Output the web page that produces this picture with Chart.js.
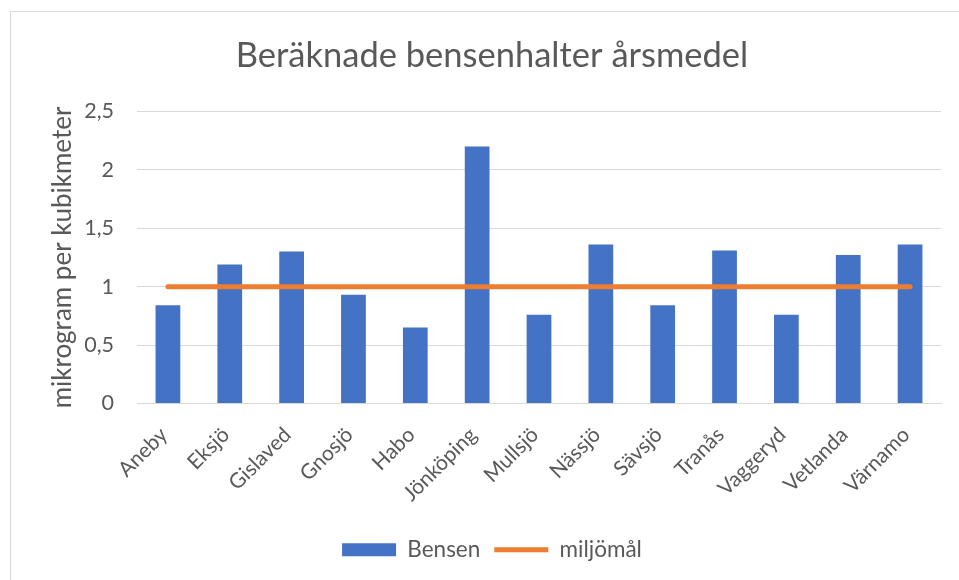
<!DOCTYPE html>
<html>
<head>
<meta charset="utf-8">
<script src="https://cdn.jsdelivr.net/npm/chart.js@4"></script>
<style>
    html, body { margin: 0; padding: 0; background: #fff; overflow: hidden; }
    body { width: 959px; height: 580px; position: relative; }
    #frame {
        position: absolute; left: 10px; top: 11px;
        width: 960px; height: 600px;
        border: 1px solid #d9d9d9; box-sizing: border-box;
    }
    #frame canvas { position: absolute; left: 0; top: 0; }
</style>
</head>
<body>
<div id="frame"><canvas id="chart" width="960" height="600"></canvas></div>
<script>
const towns = ['Aneby', 'Eksjö', 'Gislaved', 'Gnosjö', 'Habo', 'Jönköping', 'Mullsjö',
    'Nässjö', 'Sävsjö', 'Tranås', 'Vaggeryd', 'Vetlanda', 'Värnamo'];
const bensen = [0.84, 1.19, 1.30, 0.93, 0.65, 2.20, 0.76, 1.36, 0.84, 1.31, 0.76, 1.27, 1.36];
const miljomal = [1, 1, 1, 1, 1, 1, 1, 1, 1, 1, 1, 1, 1];
const yTicks = [0, 0.5, 1, 1.5, 2, 2.5];

const textGrey = '#595959';
const gridGrey = '#d9d9d9';
const fontFamily = 'Lato, "Open Sans", sans-serif';

const ctx = document.getElementById('chart').getContext('2d');
new Chart(ctx, {
    type: 'bar',
    data: {
        labels: towns,
        datasets: [{
            label: 'Bensen',
            data: bensen,
            backgroundColor: '#4472c4',
            borderWidth: 0,
            barPercentage: 0.4,
            categoryPercentage: 1,
            order: 1
        }, {
            type: 'line',
            label: 'miljömål',
            data: miljomal,
            borderColor: '#ed7d31',
            backgroundColor: '#ed7d31',
            borderWidth: 5,
            borderCapStyle: 'round',
            pointRadius: 0,
            order: 0
        }]
    },
    options: {
        responsive: false,
        animation: false,
        layout: { padding: { left: 32, right: 30, top: 0, bottom: 41 } },
        plugins: {
            title: {
                display: true,
                text: 'Beräknade bensenhalter årsmedel',
                color: textGrey,
                font: { family: fontFamily, size: 34.5, weight: 'normal' },
                padding: { top: 23, bottom: 35 }
            },
            legend: {
                position: 'bottom',
                labels: {
                    color: textGrey,
                    font: { family: fontFamily, size: 22.5 },
                    usePointStyle: true,
                    pointStyleWidth: 54,
                    boxHeight: 13,
                    padding: 14,
                    sort: (a, b) => a.datasetIndex - b.datasetIndex,
                    generateLabels: chart => Chart.defaults.plugins.legend.labels.generateLabels(chart)
                        .map(item => ({ ...item, pointStyle: item.datasetIndex === 0 ? 'rect' : 'line' }))
                }
            },
            tooltip: { enabled: false }
        },
        scales: {
            x: {
                grid: { display: false, drawTicks: false },
                border: { color: gridGrey, width: 1 },
                ticks: {
                    color: textGrey,
                    font: { family: fontFamily, size: 21 },
                    autoSkip: false,
                    minRotation: 45,
                    maxRotation: 45,
                    padding: 19,
                    labelOffset: -4
                },
                afterFit: scale => { scale.height = 121; }
            },
            y: {
                min: 0,
                max: 2.5,
                afterBuildTicks: scale => { scale.ticks = yTicks.map(v => ({ value: v })); },
                grid: { color: gridGrey, lineWidth: 1, drawTicks: false },
                border: { display: false },
                ticks: {
                    color: textGrey,
                    font: { family: fontFamily, size: 21.5 },
                    padding: 23,
                    callback: v => String(v).replace('.', ',')
                },
                title: {
                    display: true,
                    text: 'mikrogram per kubikmeter',
                    color: textGrey,
                    font: { family: fontFamily, size: 26 },
                    padding: { top: 4, bottom: 0 }
                },
                afterFit: scale => { scale.width = 94; }
            }
        }
    }
});
</script>
</body>
</html>
